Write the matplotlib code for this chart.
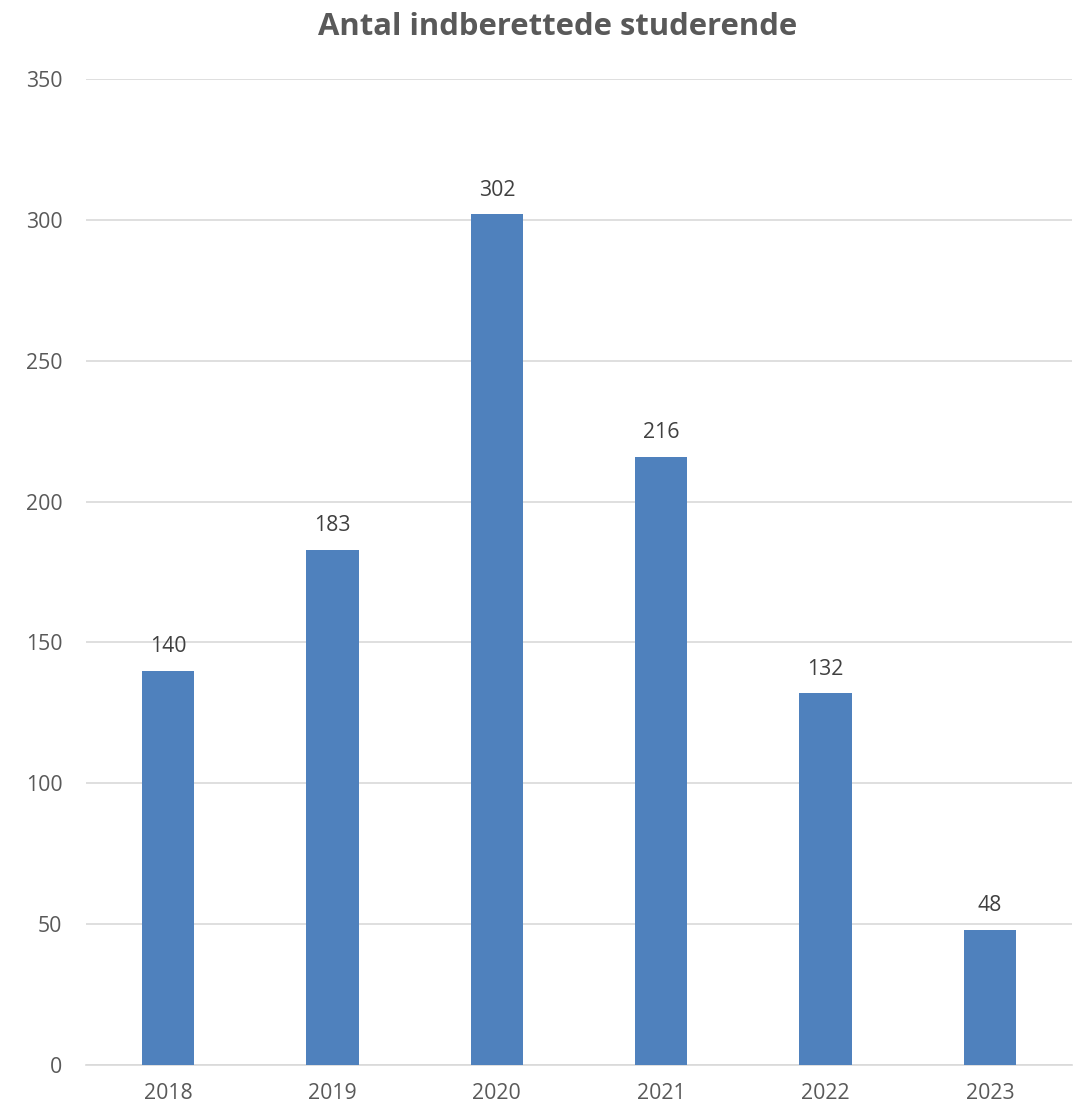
import matplotlib
matplotlib.use("Agg")
import matplotlib.pyplot as plt

# ---- data ----
years = ["2018", "2019", "2020", "2021", "2022", "2023"]
counts = [140, 183, 302, 216, 132, 48]

BAR = "#4F81BD"
TXT = "#595959"
GRID = "#D9D9D9"

plt.rcParams["font.family"] = ["Open Sans", "DejaVu Sans"]

fig = plt.figure(figsize=(10.79, 11.07), dpi=100)
ax = fig.add_axes([0.0797, 0.0379, 0.9138, 0.8907])

x = range(len(years))
ax.bar(x, counts, width=0.32, color=BAR, zorder=3)
# value labels above bars
for xi, v in zip(x, counts):
    ax.text(xi, v + 8.5, str(v), ha="center", va="center", fontsize=15.3, color="#404040")

ax.set_xlim(-0.5, len(years) - 0.5)
ax.set_ylim(0, 350)
ax.set_yticks(range(0, 351, 50))
ax.set_xticks(list(x))
ax.set_xticklabels(years)
ax.yaxis.grid(True, color=GRID, lw=1.2, zorder=0)
ax.tick_params(axis="both", length=0, labelsize=15.3, labelcolor=TXT)
ax.tick_params(axis="x", pad=13)
ax.tick_params(axis="y", pad=17)
for s in ["top", "right", "left"]:
    ax.spines[s].set_visible(False)
ax.spines["bottom"].set_color(GRID)
ax.spines["bottom"].set_linewidth(1.2)

fig.text(0.517, 0.9756, "Antal indberettede studerende", ha="center", va="center",
         fontsize=22.3, fontweight="bold", color=TXT)

fig.savefig("out.png", dpi=100)
